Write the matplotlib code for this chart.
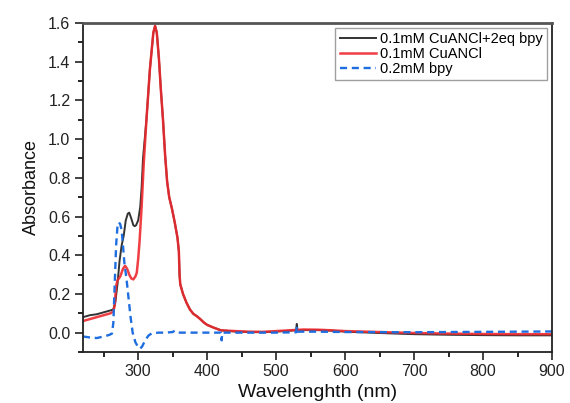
import matplotlib
matplotlib.use("Agg")
import matplotlib.pyplot as plt
from matplotlib.ticker import MultipleLocator, FormatStrFormatter

plt.rcParams['font.family'] = ['Liberation Sans', 'DejaVu Sans']

# 0.1mM CuANCl + 2eq bpy
wl_mix = [220, 230, 240, 250, 260, 264, 267, 270, 273, 276, 279, 282, 285, 287, 290,
          293, 295, 297, 300, 303, 305, 307, 310, 312, 317, 322, 324.5, 327, 330, 333,
          336, 339, 342, 345, 349, 353, 357, 359, 360, 361, 365, 370, 375, 380, 385,
          390, 395, 400, 410, 420, 440, 460, 480, 500, 520, 529, 530, 531, 540, 560,
          580, 600, 650, 700, 750, 800, 850, 900]
abs_mix = [0.08, 0.09, 0.095, 0.105, 0.115, 0.12, 0.16, 0.25, 0.37, 0.45, 0.50, 0.58, 0.615, 0.62, 0.59,
           0.555, 0.55, 0.555, 0.58, 0.65, 0.75, 0.90, 1.02, 1.10, 1.36, 1.55, 1.585, 1.55, 1.42, 1.25,
           1.10, 0.92, 0.78, 0.70, 0.64, 0.57, 0.49, 0.42, 0.30, 0.25, 0.20, 0.155, 0.12, 0.097, 0.085,
           0.07, 0.053, 0.04, 0.025, 0.012, 0.006, 0.003, 0.002, 0.005, 0.01, 0.012, 0.045, 0.012, 0.013, 0.013,
           0.010, 0.005, -0.002, -0.008, -0.011, -0.013, -0.014, -0.014]

# 0.1mM CuANCl
wl_cu = [220, 230, 240, 250, 260, 264, 266, 268, 270, 274, 278, 281, 284, 287, 290,
         293, 296, 298, 300, 302, 305, 308, 312, 317, 322, 324.5, 327, 330, 333, 336,
         339, 342, 345, 349, 353, 357, 359, 360, 361, 365, 370, 375, 380, 385, 390,
         395, 400, 410, 420, 440, 460, 480, 500, 520, 540, 560, 580, 600, 650, 700,
         750, 800, 850, 900]
abs_cu = [0.06, 0.07, 0.08, 0.09, 0.10, 0.11, 0.14, 0.24, 0.27, 0.29, 0.33, 0.345, 0.33, 0.30, 0.28,
          0.275, 0.29, 0.31, 0.38, 0.47, 0.65, 0.87, 1.10, 1.36, 1.55, 1.585, 1.55, 1.42, 1.25, 1.10,
          0.92, 0.78, 0.70, 0.64, 0.57, 0.49, 0.42, 0.30, 0.25, 0.20, 0.155, 0.12, 0.097, 0.085, 0.07,
          0.053, 0.04, 0.025, 0.012, 0.008, 0.005, 0.004, 0.008, 0.012, 0.016, 0.015, 0.012, 0.008, 0.003, -0.002,
          -0.005, -0.007, -0.008, -0.008]

# 0.2mM bpy
wl_bpy = [220, 230, 240, 250, 258, 262, 264, 266, 268, 270, 272, 274, 276, 278, 280,
          283, 286, 289, 292, 296, 300, 303, 306, 310, 315, 320, 330, 340, 350, 353,
          356, 360, 400, 420, 421, 422, 500, 529, 530, 531, 560, 600, 700, 800, 900]
abs_bpy = [-0.02, -0.025, -0.028, -0.02, -0.012, -0.005, 0.05, 0.25, 0.45, 0.55, 0.57, 0.56, 0.53, 0.45, 0.36,
           0.28, 0.18, 0.08, 0.0, -0.05, -0.075, -0.083, -0.07, -0.04, -0.015, -0.003, 0.0, 0.0, 0.003, 0.01,
           0.002, 0.0, 0.0, 0.0, -0.04, 0.0, 0.0, 0.002, 0.03, 0.005, 0.005, 0.003, 0.002, 0.004, 0.006]

labels = ['0.1mM CuANCl+2eq bpy', '0.1mM CuANCl', '0.2mM bpy']

fig = plt.figure(figsize=(5.70, 4.03), dpi=100)
ax = fig.add_axes([0.1456, 0.1266, 0.8228, 0.8164])

ax.plot(wl_mix, abs_mix, color='#333333', lw=1.4, label=labels[0])
ax.plot(wl_cu, abs_cu, color='#ee2a2f', lw=1.8, alpha=0.9, label=labels[1])
ax.plot(wl_bpy, abs_bpy, color='#1f6ee0', lw=1.7, dashes=(3, 2), label=labels[2])

ax.set_xlim(220, 900)
ax.set_ylim(-0.1, 1.6)
ax.xaxis.set_major_locator(MultipleLocator(100))
ax.xaxis.set_minor_locator(MultipleLocator(50))
ax.yaxis.set_major_locator(MultipleLocator(0.2))
ax.yaxis.set_minor_locator(MultipleLocator(0.1))
ax.yaxis.set_major_formatter(FormatStrFormatter('%.1f'))

ax.tick_params(which='major', direction='out', length=6, width=1.2, labelsize=11.5,
               colors='#222222', top=False, right=False, pad=3)
ax.tick_params(which='minor', direction='out', length=3.5, width=1.2, top=False, right=False)

for side in ['left', 'bottom', 'right']:
    ax.spines[side].set_linewidth(1.3)
    ax.spines[side].set_color('#222222')
ax.spines['top'].set_linewidth(2.0)
ax.spines['top'].set_color('#555555')

ax.set_xlabel('Wavelenghth (nm)', fontsize=14, color='#111111', labelpad=3)
ax.set_ylabel('Absorbance', fontsize=13, color='#111111', labelpad=6)

leg = ax.legend(loc='upper right', fontsize=10.5, frameon=True, fancybox=False,
                edgecolor='#888888', handlelength=2.5, handletextpad=0.25,
                borderpad=0.3, labelspacing=0.05, borderaxespad=0.35)
leg.get_frame().set_linewidth(1.0)

fig.savefig('out.png', dpi=100, facecolor='white')
